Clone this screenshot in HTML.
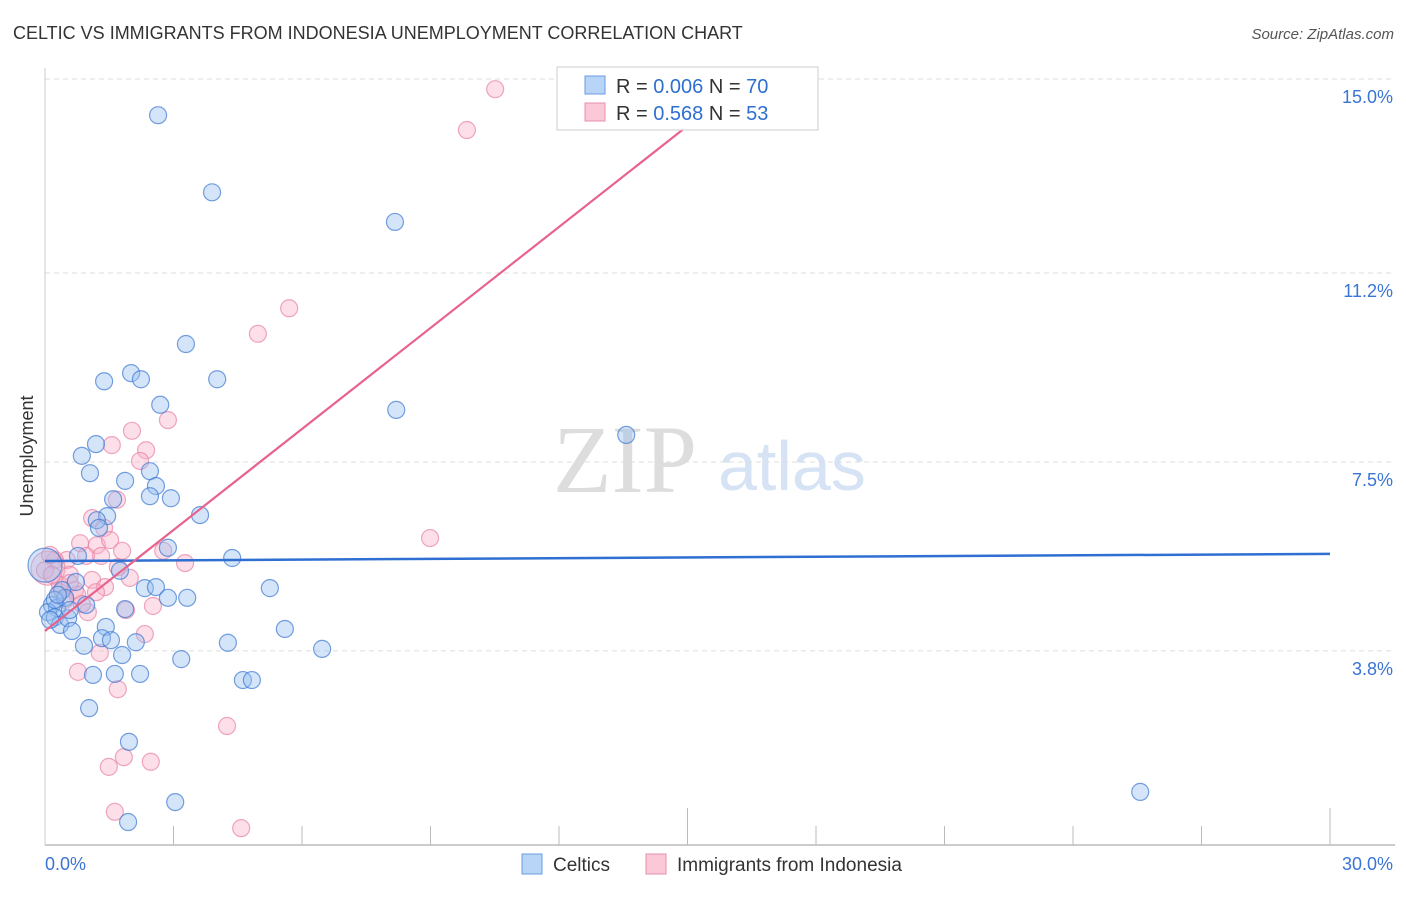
<!DOCTYPE html>
<html><head><meta charset="utf-8"><style>
body{margin:0;background:#fff;font-family:"Liberation Sans",sans-serif;}
</style></head><body>
<svg id="chart" width="1406" height="892" xmlns="http://www.w3.org/2000/svg" font-family="Liberation Sans, sans-serif">
<text x="13" y="39" font-size="18" fill="#333">CELTIC VS IMMIGRANTS FROM INDONESIA UNEMPLOYMENT CORRELATION CHART</text>
<text x="1394" y="39" font-size="15" fill="#555" text-anchor="end" font-style="italic">Source: ZipAtlas.com</text>
<text x="553" y="492" font-size="96" font-family="Liberation Serif, serif" fill="#ddd">ZIP</text>
<text x="718" y="490" font-size="70" fill="#d5e3f5">atlas</text>
<g id="grid"></g><g id="axes"></g><g id="pink"></g><g id="blue"></g><g id="lines"></g>
<text transform="translate(33,456) rotate(-90)" font-size="18" fill="#333" text-anchor="middle">Unemployment</text>
<g>
<rect x="557" y="67" width="261" height="63" fill="#fff" stroke="#ccc"/>
<rect x="585" y="76" width="20" height="18" fill="#b8d4f7" stroke="#6a9be0"/>
<rect x="585" y="103" width="20" height="18" fill="#fbc8d8" stroke="#e890ac"/>
<text x="616" y="93" font-size="20" fill="#333">R = <tspan fill="#2f6fd1">0.006</tspan>   N = <tspan fill="#2f6fd1">70</tspan></text>
<text x="616" y="120" font-size="20" fill="#333">R =  <tspan fill="#2f6fd1">0.568</tspan>   N = <tspan fill="#2f6fd1">53</tspan></text>
</g>
<g>
<rect x="522" y="854" width="20" height="20" fill="#b8d4f7" stroke="#6a9be0"/>
<text x="553" y="871" font-size="19" fill="#333">Celtics</text>
<rect x="646" y="854" width="20" height="20" fill="#fbc8d8" stroke="#e890ac"/>
<text x="677" y="871" font-size="19" fill="#333">Immigrants from Indonesia</text>
</g>
</svg>
<script>
const yTicks=[3.8,7.5,11.2,15.0];
const yTickLabels=["3.8%","7.5%","11.2%","15.0%"];
const xTickLabels=["0.0%","30.0%"];
const blueX=[2.64,3.90,8.17,3.29,2.01,2.24,1.38,4.02,2.69,8.20,13.57,1.19,0.86,1.05,2.45,1.87,2.59,1.59,2.45,2.94,1.45,1.21,1.26,3.62,2.87,4.37,0.77,1.75,0.72,2.33,2.59,5.25,2.87,3.32,1.87,0.16,0.28,0.96,0.07,0.23,0.35,0.54,0.63,1.42,1.33,1.54,2.12,5.60,4.27,6.47,0.91,1.80,3.18,1.12,1.63,2.22,4.62,4.83,1.03,1.96,3.04,1.94,25.57,0.40,0.47,0.23,0.12,0.58,0.30,0.0];
const blueY=[14.29,12.78,12.20,9.81,9.24,9.12,9.08,9.12,8.62,8.52,8.03,7.85,7.62,7.28,7.32,7.13,7.03,6.77,6.83,6.79,6.44,6.36,6.21,6.46,5.82,5.62,5.66,5.37,5.15,5.03,5.05,5.03,4.84,4.84,4.62,4.70,4.64,4.70,4.56,4.46,4.31,4.44,4.19,4.27,4.05,4.01,3.97,4.23,3.96,3.84,3.90,3.72,3.64,3.33,3.35,3.35,3.23,3.23,2.68,2.02,0.84,0.45,1.04,4.99,4.84,4.80,4.41,4.60,4.90,5.48];
const pinkX=[10.51,9.85,5.70,4.97,2.87,2.03,2.36,1.56,2.22,1.68,1.10,1.38,8.99,1.21,0.82,1.52,1.80,0.96,1.31,2.76,3.27,0.51,0.23,0.07,0.58,1.10,1.98,0.35,0.70,1.40,1.70,0.75,0.47,1.00,2.52,1.89,2.33,1.28,0.77,1.70,4.25,1.84,1.49,2.47,1.63,4.58,0.0,0.16,0.35,0.58,0.86,1.19,0.12];
const pinkY=[14.80,14.00,10.51,10.01,8.32,8.11,7.73,7.83,7.52,6.76,6.40,6.21,6.01,5.87,5.91,5.97,5.76,5.66,5.66,5.76,5.52,5.58,5.58,5.42,5.29,5.19,5.23,5.09,4.99,5.05,5.44,4.90,4.80,4.56,4.68,4.60,4.13,3.76,3.39,3.05,2.33,1.72,1.53,1.63,0.65,0.33,5.38,5.29,4.95,5.13,4.72,4.95,5.68];
const blueFit=[5.56,5.70];
const pinkFit=[4.19,14.12,15.06];
const NS="http://www.w3.org/2000/svg";
const sx=v=>45+v*1285/30, sy=v=>845-v*51.07;
function mk(p,t,a){const e=document.createElementNS(NS,t);for(const k in a)e.setAttribute(k,a[k]);document.getElementById(p).appendChild(e);return e;}
yTicks.forEach((v,i)=>{
 const l=mk('grid','line',{x1:45,x2:1395,y1:sy(v),y2:sy(v),stroke:'#ddd','stroke-dasharray':'5,4'});
 
 
 const t=mk('grid','text',{x:1393,y:sy(v)+24,'font-size':18,fill:'#3a74d4','text-anchor':'end'});
 t.textContent=yTickLabels[i];
 
 
});
const ax=mk('axes','line',{x1:45,x2:1395,y1:845,y2:845,stroke:'#bbb','stroke-width':1.5});


const ay=mk('axes','line',{x1:45,x2:45,y1:68,y2:845,stroke:'#ccc'});


for(let i=1;i<=10;i++){const x=sx(i*3);const tk=mk('axes','line',{x1:x,x2:x,y1:(i==5||i==10)?808:826,y2:845,stroke:'#bbb'});
 
 }
[[0,45,'start'],[1,1393,'end']].forEach(([i,x,an])=>{const t=mk('axes','text',{x:x,y:870,'font-size':18,fill:'#3a74d4','text-anchor':an});t.textContent=xTickLabels[i];
 
 });
function pts(g,X,Y,fill,stroke,name){X.forEach((v,i)=>{const big=(name==='celtics-point'&&i===X.length-1)||(name==='indonesia-point'&&i===23);
 const c=mk(g,'circle',{cx:sx(v),cy:sy(Y[i]),r:big?17:8.5,fill:fill,stroke:stroke,'stroke-width':1.2});
 
 });}
pts('pink',pinkX,pinkY,'rgba(248,175,200,0.4)','rgba(232,130,165,0.7)','indonesia-point');
pts('blue',blueX,blueY,'rgba(150,190,240,0.4)','rgba(60,120,210,0.7)','celtics-point');
const bl=mk('lines','line',{x1:sx(0),y1:sy(blueFit[0]),x2:sx(30),y2:sy(blueFit[1]),stroke:'#2f6fd1','stroke-width':2.5});


const pl=mk('lines','line',{x1:sx(0),y1:sy(pinkFit[0]),x2:sx(pinkFit[2]),y2:sy(pinkFit[1]),stroke:'#e8628e','stroke-width':2.2});


</script>
</body></html>
